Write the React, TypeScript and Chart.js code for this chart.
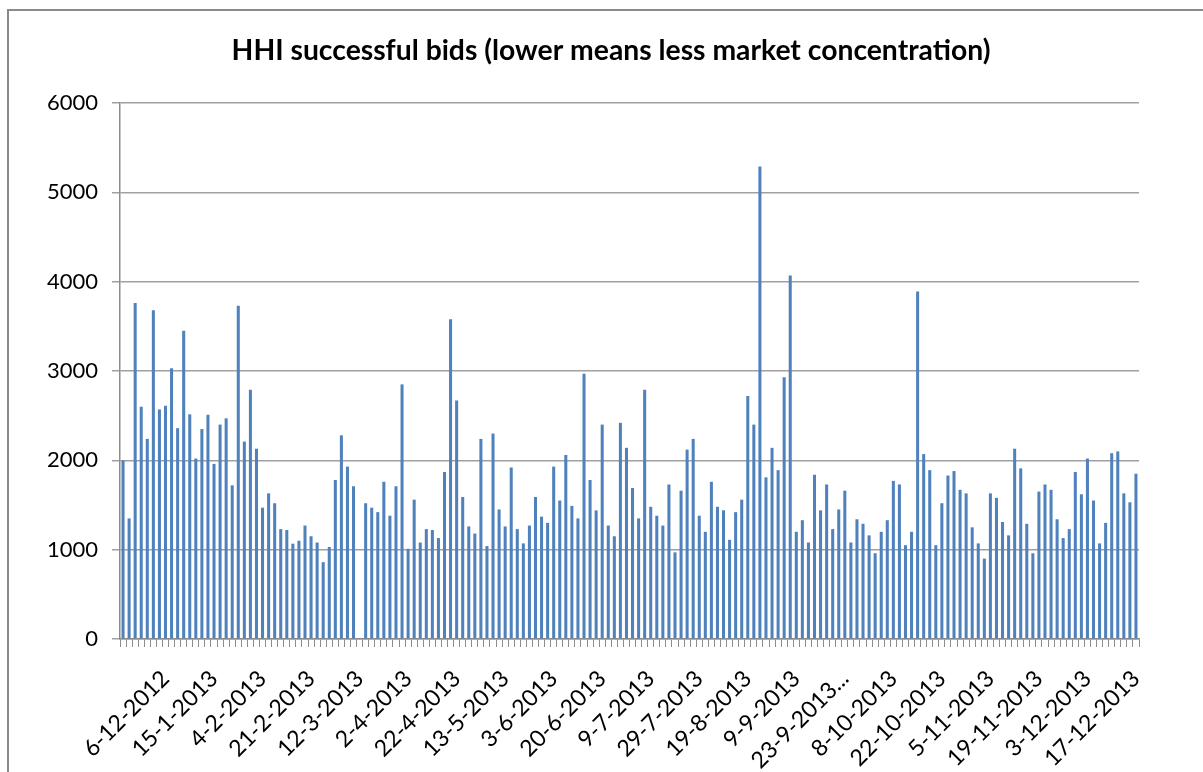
import React, { useEffect, useRef } from "react";
import { Chart, registerables } from "chart.js";

Chart.register(...registerables);

const chartTitle = "HHI successful bids (lower means less market concentration)";

const tickLabels = [
  "6-12-2012", "15-1-2013", "4-2-2013", "21-2-2013", "12-3-2013", "2-4-2013",
  "22-4-2013", "13-5-2013", "3-6-2013", "20-6-2013", "9-7-2013", "29-7-2013",
  "19-8-2013", "9-9-2013", "23-9-2013...", "8-10-2013", "22-10-2013", "5-11-2013",
  "19-11-2013", "3-12-2013", "17-12-2013",
];
const labelStart = 7;
const labelStep = 8;

const hhiValues: (number | null)[] = [
  2000, 1350, 3760, 2600, 2240, 3680, 2570, 2610, 3030, 2360,
  3450, 2515, 2020, 2350, 2510, 1960, 2400, 2470, 1720, 3730,
  2210, 2790, 2130, 1470, 1630, 1520, 1230, 1220, 1067, 1100,
  1270, 1150, 1080, 860, 1030, 1780, 2280, 1930, 1710, null,
  1520, 1470, 1420, 1760, 1380, 1710, 2850, 1010, 1560, 1080,
  1230, 1220, 1130, 1870, 3580, 2670, 1590, 1260, 1180, 2240,
  1040, 2300, 1450, 1260, 1920, 1230, 1070, 1270, 1590, 1370,
  1300, 1930, 1550, 2060, 1490, 1350, 2970, 1780, 1440, 2400,
  1270, 1150, 2420, 2140, 1690, 1350, 2790, 1480, 1380, 1270,
  1730, 970, 1660, 2120, 2240, 1380, 1200, 1760, 1480, 1440,
  1110, 1420, 1560, 2720, 2400, 5290, 1810, 2140, 1890, 2930,
  4070, 1200, 1330, 1080, 1840, 1440, 1730, 1230, 1450, 1660,
  1080, 1340, 1290, 1160, 960, 1200, 1330, 1770, 1730, 1050,
  1200, 3890, 2070, 1890, 1050, 1520, 1830, 1880, 1670, 1630,
  1250, 1070, 900, 1630, 1580, 1310, 1160, 2130, 1910, 1290,
  960, 1650, 1730, 1670, 1340, 1130, 1230, 1870, 1620, 2020,
  1550, 1070, 1300, 2080, 2100, 1630, 1530, 1850,
];

const yMin = 0;
const yMax = 6000;
const yStep = 1000;

const categories = hhiValues.map((_, i) => {
  const k = i - labelStart;
  return k >= 0 && k % labelStep === 0 ? tickLabels[k / labelStep] ?? "" : "";
});

const titlePlugin = {
  id: "fixedTitle",
  afterDraw(chart: any) {
    const ctx = chart.ctx;
    ctx.save();
    ctx.font = "bold 28.3px Lato";
    ctx.fillStyle = "#000";
    ctx.textAlign = "center";
    ctx.textBaseline = "alphabetic";
    ctx.fillText(chartTitle, 611, 59.5);
    ctx.restore();
  },
};

export default function App() {
  const canvasRef = useRef<HTMLCanvasElement | null>(null);

  useEffect(() => {
    if (!canvasRef.current) return;
    const chart = new Chart(canvasRef.current, {
      type: "bar",
      data: {
        labels: categories,
        datasets: [
          {
            label: "HHI",
            data: hhiValues,
            backgroundColor: "#4F81BD",
            borderWidth: 0,
            barPercentage: 0.5,
            categoryPercentage: 1,
          },
        ],
      },
      plugins: [titlePlugin],
      options: {
        animation: false,
        responsive: false,
        maintainAspectRatio: false,
        layout: { padding: { left: 0, right: 64, top: 103, bottom: 0 } },
        plugins: {
          legend: { display: false },
          tooltip: { enabled: false },
          title: { display: false },
        },
        scales: {
          x: {
            grid: {
              drawOnChartArea: false,
              offset: true,
              tickLength: 8,
              color: "#8c8c8c",
              lineWidth: 1,
            },
            border: { color: "#8c8c8c", width: 1.5 },
            ticks: {
              autoSkip: false,
              minRotation: 45,
              maxRotation: 45,
              padding: 18,
              color: "#000",
              font: { family: "Lato", size: 23 },
            },
            afterFit: (scale: any) => {
              scale.height = 133;
            },
          },
          y: {
            min: yMin,
            max: yMax,
            ticks: {
              stepSize: yStep,
              padding: 14,
              color: "#000",
              font: { family: "Lato", size: 22 },
              callback: (value: any) => String(value),
            },
            grid: { color: "#a0a0a0", lineWidth: 1.5, tickLength: 8 },
            border: { color: "#8c8c8c", width: 1.5 },
            afterFit: (scale: any) => {
              scale.width = 120;
            },
          },
        },
      },
    });
    return () => chart.destroy();
  }, []);

  return (
    <div
      style={{
        position: "absolute",
        left: 0,
        top: 0,
        width: 1203,
        height: 772,
        overflow: "hidden",
        background: "#fff",
      }}
    >
      <div
        style={{
          position: "absolute",
          left: 7,
          top: 9,
          width: 1300,
          height: 900,
          border: "2px solid #8a8a8a",
        }}
      />
      <canvas
        ref={canvasRef}
        width={1203}
        height={772}
        style={{ position: "absolute", left: 0, top: 0, width: 1203, height: 772 }}
      />
    </div>
  );
}
